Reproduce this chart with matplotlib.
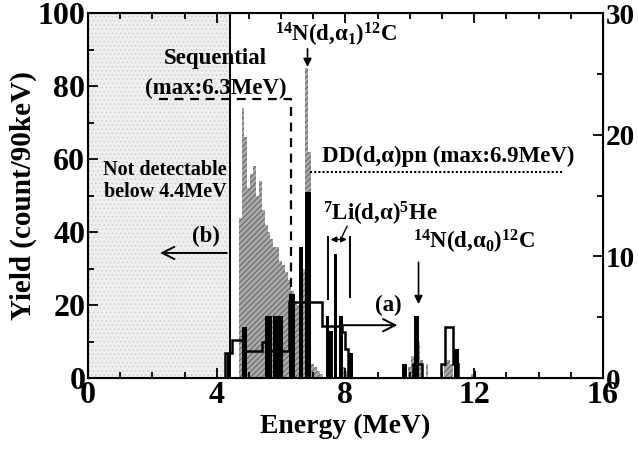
import numpy as np
import matplotlib.pyplot as plt

plt.rcParams['font.family'] = ['Liberation Serif', 'DejaVu Serif']
plt.rcParams['font.weight'] = 'bold'
plt.rcParams['mathtext.fontset'] = 'custom'
plt.rcParams['mathtext.rm'] = 'Liberation Serif:bold'
plt.rcParams['mathtext.it'] = 'Liberation Serif:bold'
plt.rcParams['mathtext.bf'] = 'Liberation Serif:bold'
plt.rcParams['hatch.linewidth'] = 0.6

# sequential (grey hatched) spectrum, 90 keV bins
grey_start = 4.68
bin_w = 0.09
grey_counts = [44, 74, 66, 52, 56, 58, 50, 54, 46, 42, 40, 38, 36, 36, 32, 31,
               29, 27, 24, 21, 20, 19, 30, 85, 62, 4, 3, 2, 1]
# small grey bits at higher energy
grey2_left = [7.80, 7.89, 7.98, 9.95, 10.04, 10.13, 10.22, 10.31, 10.49, 11.07, 11.16, 11.25, 11.9]
grey2_counts = [2, 3, 2, 3, 6, 12, 10, 5, 4, 4, 5, 4, 1]

# black filled spectrum (left edge, right edge, height)
black_lo = [4.33, 4.77, 5.49, 5.75, 6.26, 6.57, 6.75, 7.38, 7.50, 7.63, 7.81, 8.12, 9.77, 10.14, 11.38, 12.00]
black_hi = [4.41, 4.93, 5.72, 6.05, 6.42, 6.67, 6.93, 7.50, 7.60, 7.75, 7.91, 8.22, 9.92, 10.30, 11.53, 12.05]
black_h = [7, 14, 17, 17, 23, 36, 51, 17, 13, 34, 17, 7, 4, 17, 8, 2]

# open (outlined) spectrum
open_edges = [4.25, 4.47, 4.87, 5.42, 5.55, 6.26, 7.27, 7.90, 7.97, 8.07]
open_h = [7, 10.5, 7.3, 10, 7.3, 20.8, 14.2, 12.6, 8]
open2_edges = [10.10, 10.38, 10.98, 11.10, 11.35, 11.50]
open2_h = [3.8, 0, 4, 14, 4]

fig = plt.figure(figsize=(6.38, 4.55), dpi=100)
ax = fig.add_axes([0.138, 0.169, 0.807, 0.802])

# not detectable region
ax.axvspan(0, 4.4, facecolor='#efefef', hatch='....', edgecolor='#cfcfcf', lw=0, zorder=0)
ax.axvline(4.4, color='black', lw=1.4, zorder=5)

g_left = grey_start + bin_w * np.arange(len(grey_counts))
ax.bar(g_left, grey_counts, width=bin_w, align='edge', color='#a8a8a8',
       edgecolor='#555555', hatch='//////', lw=0, zorder=1)
ax.bar(grey2_left, grey2_counts, width=bin_w, align='edge', color='#a8a8a8',
       edgecolor='#555555', hatch='//////', lw=0, zorder=1)

ax.stairs(open_h, open_edges, color='black', lw=1.8, baseline=0, zorder=3)
ax.stairs(open2_h, open2_edges, color='black', lw=1.8, baseline=0, zorder=3)

bl = np.array(black_lo)
ax.bar(bl, black_h, width=np.array(black_hi) - bl, align='edge', color='black', lw=0, zorder=4)

# sequential limit (dashed)
ax.plot([2.2, 6.3, 6.3], [76.4, 76.4, 0], ls=(0, (4, 3)), color='black', lw=1.6, zorder=6)
# DD limit (dotted)
ax.plot([6.9, 14.8], [56.4, 56.4], ls=(0, (1, 1)), color='black', lw=1.5, zorder=6)

ax.set_xlim(0, 16)
ax.set_ylim(0, 100)
ax.set_xticks([0, 4, 8, 12, 16])
ax.set_xticks(np.arange(0, 17, 1), minor=True)
ax.set_yticks([0, 20, 40, 60, 80, 100])
ax.set_yticks(np.arange(0, 101, 10), minor=True)
ax.tick_params(which='both', direction='in', top=True, width=1.3)
ax.tick_params(which='major', length=7, labelsize=23, pad=2)
ax.tick_params(which='minor', length=4)
ax.tick_params(axis='y', right=False)
for s in ax.spines.values():
    s.set_linewidth(1.5)
ax.set_xlabel('Energy (MeV)', fontsize=20, fontweight='bold', labelpad=3)
ax.set_ylabel('Yield (count/90keV)', fontsize=21, fontweight='bold', labelpad=0)

ax2 = ax.twinx()
ax2.set_ylim(0, 30)
ax2.set_yticks([0, 10, 20, 30])
ax2.set_yticks(np.arange(0, 31, 5), minor=True)
ax2.tick_params(which='both', direction='in', width=1.3)
ax2.tick_params(which='major', length=7, labelsize=21, pad=2)
ax2.tick_params(which='minor', length=4)

fs = 16.5
ax.text(3.97, 87.5, 'Sequential', ha='center', va='center', fontsize=fs, fontweight='bold', zorder=7)
ax.text(3.97, 79.5, '(max:6.3MeV)', ha='center', va='center', fontsize=fs, fontweight='bold', zorder=7)
ax.text(7.72, 94.0, r'$^{14}$N(d,α$_1$)$^{12}$C', ha='center', va='center', fontsize=fs)
ax.annotate('', xy=(6.82, 84.5), xytext=(6.82, 91),
            arrowprops=dict(arrowstyle='-|>', color='black', lw=1.2, mutation_scale=12))
ax.text(11.2, 60.8, 'DD(d,α)pn (max:6.9MeV)', ha='center', va='center', fontsize=fs, fontweight='bold')
ax.text(2.4, 54.0, 'Not detectable\nbelow 4.4MeV', ha='center', va='center', fontsize=14.5,
        fontweight='bold', linespacing=1.15)
ax.text(3.66, 38.8, '(b)', ha='center', va='center', fontsize=fs, fontweight='bold')
ax.annotate('', xy=(2.15, 34.3), xytext=(4.4, 34.3),
            arrowprops=dict(arrowstyle='->', color='black', lw=1.4, mutation_scale=22))
ax.text(9.1, 45.0, r'$^{7}$Li(d,α)$^{5}$He', ha='center', va='center', fontsize=fs)
ax.plot([7.45, 7.45], [21.6, 38.6], color='black', lw=1.4)
ax.plot([8.13, 8.13], [22.3, 38.6], color='black', lw=1.4)
ax.annotate('', xy=(7.45, 38.0), xytext=(8.13, 38.0),
            arrowprops=dict(arrowstyle='<|-|>', color='black', lw=1.1, mutation_scale=8))
ax.plot([7.9, 8.05], [38.9, 41.6], color='black', lw=1.0)
ax.text(9.33, 20.0, '(a)', ha='center', va='center', fontsize=fs, fontweight='bold')
ax.annotate('', xy=(9.7, 14.5), xytext=(7.85, 14.5),
            arrowprops=dict(arrowstyle='->', color='black', lw=1.4, mutation_scale=22))
ax.text(12.0, 37.3, r'$^{14}$N(d,α$_0$)$^{12}$C', ha='center', va='center', fontsize=fs)
ax.annotate('', xy=(10.27, 19.5), xytext=(10.27, 32.5),
            arrowprops=dict(arrowstyle='-|>', color='black', lw=1.2, mutation_scale=12))

fig.savefig('out.png', dpi=100)
